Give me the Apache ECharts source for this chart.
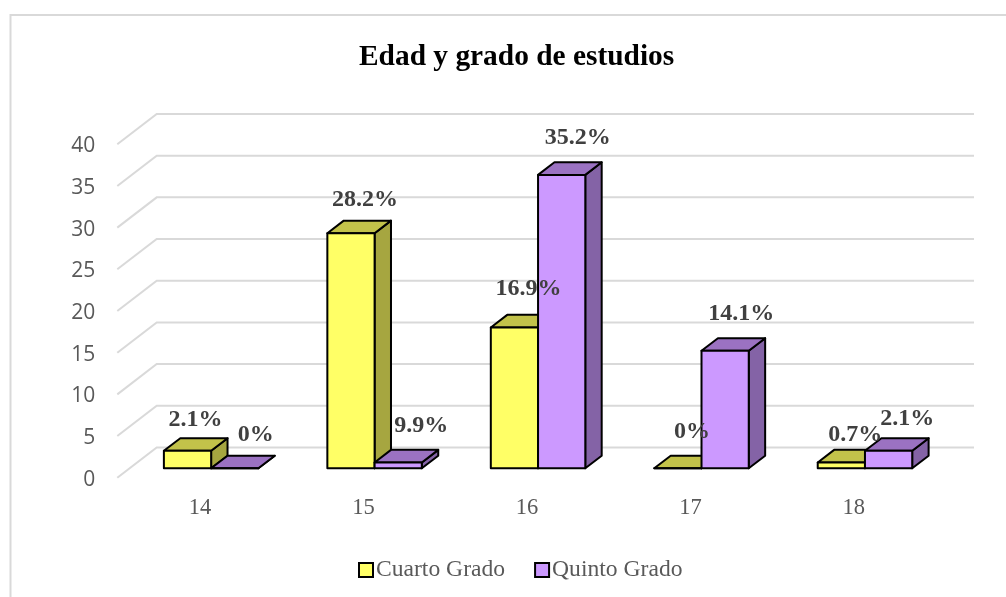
<!DOCTYPE html>
<html><head><meta charset="utf-8">
<style>html,body{margin:0;padding:0;background:#fff}#c{width:1006px;height:597px}</style>
<script src="https://cdn.jsdelivr.net/npm/echarts@6/dist/echarts.min.js"></script>
</head><body><div id="c"></div>
<script>
const categories = ['14','15','16','17','18'];
const cuartoValues = [2.1, 28.2, 16.9, 0, 0.7];
const quintoValues = [0, 0.7, 35.2, 14.1, 2.1];
const cuartoLabels = ['2.1%','28.2%','16.9%','0%','0.7%'];
const quintoLabels = ['0%','9.9%','35.2%','14.1%','2.1%'];
const yTicks = [0,5,10,15,20,25,30,35,40];

// label nudges relative to the top-front centre of each bar, px
const cuartoNudge = [[8,-31],[14,-33],[14,-39],[14,-36.6],[14,-27.5]];
const quintoNudge = [[21,-34],[23,-36.5],[16,-37],[16,-37],[18.7,-32]];

// pseudo-3D projection, px
const WALL = {dx:39.4, dy:-30.3};
const BAR_OFF = {dx:12.1, dy:-9.4};
const DEPTH = {dx:16.4, dy:-12.6};
const BAR_RATIO = 0.289;
const LABEL_FONT = 'bold 24px "Liberation Serif"';

function wallItem(params, api){
  const cs = params.coordSys;
  const y = api.coord([0, api.value(1)])[1];
  return {type:'polyline', silent:true, shape:{points:[
    [cs.x, y],[cs.x+WALL.dx, y+WALL.dy],[cs.x+cs.width+WALL.dx, y+WALL.dy]
  ]}, style:{stroke:'#D9D9D9', lineWidth:2, fill:null}};
}
function barRenderer(side, colors){
  return function(params, api){
    const i = api.value(0), v = api.value(1);
    const c = api.coord([i, v]), base = api.coord([i, 0]);
    const w = api.size([1,0])[0]*BAR_RATIO;
    const x0 = c[0]+BAR_OFF.dx + (side<0 ? -w : 0), x1 = x0+w;
    const yT = c[1]+BAR_OFF.dy, yB = base[1]+BAR_OFF.dy;
    const d = DEPTH;
    const st = f=>({fill:f, stroke:'#000', lineWidth:2, lineJoin:'round'});
    const ch = [];
    ch.push({type:'polygon', shape:{points:[[x1,yT],[x1+d.dx,yT+d.dy],[x1+d.dx,yB+d.dy],[x1,yB]]}, style:st(colors.side)});
    ch.push({type:'polygon', shape:{points:[[x0,yT],[x0+d.dx,yT+d.dy],[x1+d.dx,yT+d.dy],[x1,yT]]}, style:st(colors.top)});
    ch.push({type:'rect', shape:{x:x0,y:yT,width:w,height:yB-yT}, style:st(colors.front)});
    return {type:'group', children:ch};
  };
}
function labelRenderer(side, texts, nudges){
  return function(params, api){
    const i = api.value(0), v = api.value(1);
    const c = api.coord([i, v]);
    const w = api.size([1,0])[0]*BAR_RATIO;
    const cx = c[0]+BAR_OFF.dx + side*w/2;
    const yT = c[1]+BAR_OFF.dy;
    return {type:'text', silent:true, z2:100, style:{
      text:texts[i], x:cx+nudges[i][0], y:yT+nudges[i][1],
      align:'center', verticalAlign:'middle', font:LABEL_FONT, fill:'#404040'
    }};
  };
}
const yellow = {front:'#FFFF66', top:'#C2C24A', side:'#A6A640'};
const purple = {front:'#CC99FF', top:'#9B72C2', side:'#8463A6'};
const toData = arr => arr.map((v,i)=>[i,v]);

const chart = echarts.init(document.getElementById('c'), null, {renderer:'canvas'});
chart.setOption({
  animation:false,
  backgroundColor:'#fff',
  title:{text:'Edad y grado de estudios', left:354, top:38,
    textStyle:{fontFamily:'Liberation Serif', fontWeight:'bold', fontSize:29.4, color:'#000'}},
  legend:{data:['Cuarto Grado','Quinto Grado'], left:358, top:558, itemWidth:14, itemHeight:14, itemGap:29,
    icon:'rect', padding:0,
    itemStyle:{borderColor:'#000', borderWidth:2},
    textStyle:{fontFamily:'Liberation Serif', fontSize:23.6, color:'#595959', padding:[0,0,0,-2]}},
  grid:{left:117.3, top:144.3, width:817.3, height:333.4, containLabel:false},
  xAxis:{type:'category', data:categories, axisLine:{show:false}, axisTick:{show:false}, splitLine:{show:false},
    axisLabel:{margin:19, padding:[0,0,0,2], fontFamily:'Liberation Serif', fontSize:22.5, color:'#595959'}},
  yAxis:{type:'value', min:0, max:40, interval:5, axisLine:{show:false}, axisTick:{show:false}, splitLine:{show:false},
    axisLabel:{margin:22, verticalAlign:'top', lineHeight:4, fontFamily:'Open Sans', fontSize:21, color:'#595959'}},
  graphic:[{type:'polyline', silent:true, shape:{points:[[10.5,597],[10.5,15],[1006,15]]},
    style:{stroke:'#D9D9D9', lineWidth:2, fill:null}}],
  series:[
    {type:'custom', name:'grid', data:yTicks.map(t=>[0,t]), renderItem:wallItem, z:1, silent:true,
     encode:{x:0,y:1}, clip:false},
    {type:'custom', name:'Cuarto Grado', data:toData(cuartoValues), renderItem:barRenderer(-1,yellow), z:2,
     encode:{x:0,y:1}, itemStyle:{color:yellow.front}, clip:false},
    {type:'custom', name:'Quinto Grado', data:toData(quintoValues), renderItem:barRenderer(1,purple), z:3,
     encode:{x:0,y:1}, itemStyle:{color:purple.front}, clip:false},
    {type:'custom', name:'Cuarto labels', data:toData(cuartoValues), renderItem:labelRenderer(-1,cuartoLabels,cuartoNudge), z:5,
     encode:{x:0,y:1}, silent:true, clip:false},
    {type:'custom', name:'Quinto labels', data:toData(quintoValues), renderItem:labelRenderer(1,quintoLabels,quintoNudge), z:5,
     encode:{x:0,y:1}, silent:true, clip:false}
  ]
});
</script></body></html>
